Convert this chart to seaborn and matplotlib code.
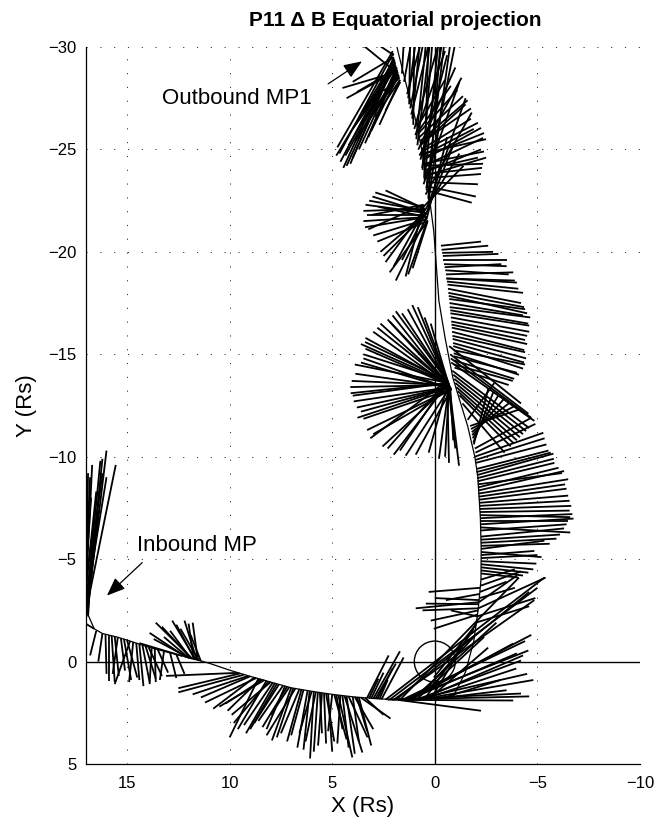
import matplotlib
matplotlib.use("Agg")
import matplotlib.pyplot as plt
import seaborn as sns
import pandas as pd
from matplotlib.collections import LineCollection
from matplotlib.patches import Circle

# ---------------- data (Saturn radii) ----------------
# spacecraft trajectory in the equatorial plane
orbit_x = [17.4, 17.1, 17.0, 16.95, 16.6, 16.2, 15.5, 15.0, 14.0, 13.0, 12.0, 11.0, 10.0, 9.0, 8.0,
           7.0, 6.0, 5.0, 4.0, 3.0, 2.0, 1.0, 0.0, -0.9, -1.5, -1.9, -2.12, -2.25, -2.26, -2.22,
           -2.1, -1.95, -1.6, -1.2, -0.88, -0.5, -0.2, 0.05, 0.44, 0.9, 1.4, 1.8, 1.95]
orbit_y = [-9.0, -5.0, -3.5, -2.4, -1.6, -1.37, -1.2, -1.05, -0.72, -0.45, -0.2, 0.08, 0.42, 0.72, 1.0,
           1.28, 1.45, 1.6, 1.72, 1.8, 1.86, 1.87, 1.82, 1.7, 0.5, -1.0, -2.6, -4.0, -5.5, -7.0,
           -9.0, -10.0, -11.5, -12.8, -13.85, -15.8, -17.6, -21.0, -24.0, -26.3, -28.2, -29.8, -30.5]

# Delta-B vectors: (x0, y0, x1, y1) = start on trajectory, end of the scaled vector
inbound_up = [(16.95, -2.4, 16.0, -10.3), (16.97, -2.6, 15.55, -9.6), (16.98, -2.8, 16.3, -9.8),
              (17.0, -3.0, 16.2, -9.2), (17.0, -3.2, 16.9, -9.2), (17.02, -3.4, 16.5, -8.3),
              (17.03, -3.6, 16.6, -6.9), (17.05, -3.8, 16.75, -8.0), (16.93, -2.3, 16.4, -7.4),
              (16.9, -2.2, 16.65, -6.2), (17.06, -4.0, 17.05, -8.6), (17.08, -4.3, 16.95, -7.6),
              (16.6, -1.6, 17.1, -1.9), (16.96, -2.5, 16.2, -9.9), (16.99, -2.9, 16.0, -9.0),
              (17.01, -3.3, 16.7, -9.6), (17.04, -3.7, 16.8, -9.0)]
inbound_down = [(16.2, -1.37, 16.4, 0.0), (15.9, -1.3, 15.9, 0.93), (15.6, -1.22, 15.4, 0.7),
                (15.3, -1.15, 15.1, 0.44), (15.0, -1.05, 14.5, 0.78), (14.7, -0.95, 14.9, 1.0),
                (14.4, -0.85, 14.2, 1.2), (14.1, -0.76, 13.6, 0.83), (13.8, -0.65, 13.9, 1.1),
                (13.5, -0.58, 13.0, 0.54), (13.2, -0.5, 13.4, 0.9), (12.9, -0.42, 12.6, 0.8),
                (12.6, -0.35, 12.2, 0.6), (16.5, -1.5, 16.8, -0.3), (14.85, -1.0, 15.6, 1.1),
                (16.05, -1.33, 16.0, 0.6), (15.75, -1.26, 15.6, 1.0), (15.45, -1.18, 15.7, 0.6),
                (15.15, -1.1, 14.8, 0.9), (14.55, -0.9, 14.4, 0.9), (14.25, -0.8, 13.9, 1.0),
                (13.95, -0.7, 13.3, 0.7), (13.65, -0.62, 13.6, 1.0)]
inbound_cusp = [(11.8, -0.12, 13.6, -1.9), (11.6, -0.07, 12.2, -2.0), (11.9, -0.15, 12.9, -1.5),
                (12.1, -0.2, 13.9, -1.4), (11.7, -0.1, 12.6, -1.8), (11.5, -0.05, 12.4, -1.6),
                (12.3, -0.27, 14.4, -0.9), (11.4, -0.02, 11.9, -1.3), (12.0, -0.18, 13.2, -1.2),
                (11.75, -0.1, 12.0, -1.85), (11.65, -0.08, 12.8, -2.0), (11.85, -0.13, 13.3, -1.7),
                (11.55, -0.06, 11.8, -1.9), (11.95, -0.16, 13.7, -1.1)]
dawn_fan = [(8.6, 0.83, 10.0, 3.7), (8.2, 0.93, 9.6, 3.3), (7.8, 1.06, 9.2, 3.5), (7.6, 1.12, 8.8, 3.0),
            (7.0, 1.28, 7.94, 3.85), (7.2, 1.23, 8.4, 3.2), (6.6, 1.35, 7.5, 3.5), (6.2, 1.42, 6.7, 4.2),
            (5.9, 1.47, 6.08, 4.73), (5.5, 1.54, 5.69, 4.1), (5.8, 1.49, 6.3, 3.9), (5.0, 1.6, 5.2, 3.4),
            (4.6, 1.66, 4.75, 4.0), (4.7, 1.64, 4.02, 4.68), (4.4, 1.68, 3.53, 4.44), (4.2, 1.7, 3.28, 3.7),
            (3.6, 1.76, 2.16, 2.78), (3.9, 1.73, 3.0, 3.3), (3.4, 1.77, 2.5, 2.6), (4.9, 1.61, 4.3, 3.8),
            (6.4, 1.38, 7.0, 3.6), (8.0, 1.0, 9.9, 2.6), (8.3, 0.9, 10.5, 2.2), (8.7, 0.8, 11.2, 2.0),
            (9.0, 0.72, 11.4, 1.75), (9.3, 0.64, 12.5, 1.5), (9.5, 0.58, 12.5, 1.3), (9.6, 0.55, 13.1, 0.7),
            (8.4, 0.88, 10.2, 2.05), (7.1, 1.26, 8.0, 2.6), (5.2, 1.57, 5.0, 4.4), (6.0, 1.45, 6.6, 3.5),
            (4.8, 1.63, 4.5, 3.3), (8.5, 0.85, 10.1, 2.4), (7.9, 1.03, 9.3, 3.1), (7.4, 1.18, 8.6, 2.9),
            (6.8, 1.32, 8.2, 3.6), (5.6, 1.52, 5.5, 3.5), (5.3, 1.56, 4.9, 3.9), (4.0, 1.72, 3.7, 3.9),
            (3.7, 1.75, 3.1, 4.1), (8.1, 0.97, 9.8, 3.0), (7.7, 1.09, 9.0, 3.3), (7.3, 1.2, 8.2, 3.3),
            (6.9, 1.3, 7.7, 3.7), (6.5, 1.37, 7.2, 3.9), (6.1, 1.44, 6.4, 4.3), (5.7, 1.5, 5.9, 4.4),
            (5.4, 1.55, 5.3, 4.0), (4.5, 1.67, 4.2, 4.2), (4.3, 1.69, 3.9, 4.5), (3.8, 1.74, 3.3, 3.4),
            (9.1, 0.7, 11.8, 1.6), (8.8, 0.78, 10.8, 2.3)]
peri_short = [(3.3, 1.77, 2.25, -0.3), (2.6, 1.84, 1.52, -0.2), (2.9, 1.82, 1.9, 0.1),
              (3.1, 1.8, 2.5, 0.54), (2.8, 1.83, 2.06, 0.34), (3.2, 1.79, 2.75, 0.83),
              (3.0, 1.81, 1.7, -0.5), (2.7, 1.84, 2.3, 0.9)]
peri_long = [(2.4, 1.86, -5.34, -4.1), (2.0, 1.86, -4.85, -3.0), (1.7, 1.87, -4.1, -4.1),
             (1.5, 1.87, -4.56, -0.54), (1.2, 1.87, -3.82, -0.88), (0.9, 1.86, -4.2, -0.05),
             (0.6, 1.85, -3.97, 0.34), (0.3, 1.83, -2.6, -0.68), (2.3, 1.86, -4.2, 1.56),
             (1.8, 1.87, -3.82, 1.9), (1.8, 1.87, -2.25, 2.4), (-0.3, 1.8, -3.2, 0.9),
             (0.0, 1.82, -3.5, 1.4), (1.0, 1.86, -4.5, 0.6), (0.7, 1.85, -4.3, -0.3),
             (1.4, 1.87, -4.7, -1.3), (1.1, 1.86, -3.0, -1.9), (0.2, 1.83, -2.1, -2.0),
             (0.5, 1.84, -1.9, -1.6), (0.9, 1.86, -2.4, -1.2), (2.2, 1.86, -5.0, -3.6),
             (1.9, 1.87, -4.6, -3.4), (1.6, 1.87, -4.4, -1.0), (1.3, 1.87, -4.0, -0.4),
             (0.8, 1.86, -4.8, 0.9), (2.1, 1.86, -4.6, 1.7)]
rise_left = [(-2.15, -2.8, 0.44, -2.83), (-2.12, -2.5, 0.2, -2.0), (-2.1, -2.3, 0.05, -1.6),
             (-2.15, -2.9, 0.93, -2.6), (-2.18, -3.3, -0.54, -3.0), (-2.1, -2.2, -0.78, -2.5),
             (-2.2, -3.6, 0.3, -3.4), (-2.0, -1.8, 0.05, 0.78), (-1.9, -1.2, 0.4, 1.3),
             (-2.13, -2.6, 0.6, -2.5), (-2.17, -3.0, 0.0, -3.1)]
dusk_fan = [(-1.95, -10.0, -5.29, -11.17), (-2.0, -9.7, -5.44, -10.6), (-2.02, -9.4, -5.54, -10.3),
            (-2.05, -9.1, -5.78, -10.15), (-2.08, -8.8, -5.83, -9.7), (-2.1, -8.5, -6.03, -9.46),
            (-2.12, -8.2, -6.5, -8.9), (-2.15, -7.9, -6.42, -8.44), (-2.18, -7.6, -6.57, -7.85),
            (-2.2, -7.3, -6.57, -7.37), (-2.22, -7.0, -6.7, -7.2), (-2.23, -6.7, -6.76, -6.98),
            (-2.24, -6.4, -6.42, -6.7), (-2.25, -6.1, -6.3, -6.5), (-2.25, -5.8, -5.93, -6.0),
            (-2.26, -5.5, -5.34, -5.9), (-2.26, -5.2, -4.85, -5.4), (-2.26, -4.9, -4.95, -4.78),
            (-2.25, -4.6, -4.56, -4.34), (-2.25, -4.3, -4.07, -4.1), (-2.24, -4.0, -3.9, -4.5),
            (-2.22, -3.7, -4.2, -4.4), (-2.2, -3.4, -3.5, -3.9), (-2.18, -3.1, -3.9, -3.6),
            (-2.15, -2.9, -4.0, -4.2), (-2.12, -2.6, -5.4, -4.1), (-2.05, -2.2, -4.9, -3.1),
            (-2.0, -1.9, -4.6, -2.7), (-2.19, -7.45, -6.65, -7.6), (-2.21, -7.15, -6.6, -7.05),
            (-2.23, -6.85, -6.5, -6.85), (-2.14, -8.05, -6.35, -8.65), (-2.09, -8.65, -6.2, -9.2),
            (-2.24, -6.55, -6.6, -6.3), (-2.25, -5.95, -6.1, -6.2), (-2.26, -5.65, -5.6, -5.75),
            (-2.26, -5.35, -5.2, -5.1), (-2.26, -5.05, -5.0, -5.2), (-2.0, -9.85, -5.35, -10.9),
            (-2.03, -9.25, -5.65, -10.2), (-2.06, -8.95, -5.8, -9.9), (-2.11, -8.35, -6.3, -9.3),
            (-2.17, -7.75, -6.5, -8.1), (-2.25, -4.75, -4.8, -4.5), (-2.25, -4.45, -4.3, -4.2)]
cross_hatch = [(-0.75, -15.0, -4.56, -12.1), (-0.8, -14.6, -4.85, -11.75), (-0.85, -14.2, -4.6, -11.4),
               (-0.95, -13.8, -4.3, -11.1), (-1.05, -13.4, -4.0, -10.8), (-1.2, -13.0, -3.7, -10.5),
               (-1.35, -12.6, -3.4, -10.2), (-0.7, -15.4, -4.2, -12.6), (-1.9, -10.6, -2.6, -13.3),
               (-1.85, -10.9, -3.1, -13.0), (-1.8, -11.2, -3.6, -12.6), (-1.72, -11.5, -4.1, -12.3),
               (-1.95, -10.4, -4.7, -11.9), (-1.98, -10.2, -4.9, -11.6), (-1.6, -11.8, -2.9, -13.6),
               (-0.78, -14.8, -4.7, -11.9), (-0.9, -14.0, -4.45, -11.25), (-1.0, -13.6, -4.15, -10.95),
               (-1.12, -13.2, -3.85, -10.65), (-1.88, -10.7, -2.85, -13.15), (-1.82, -11.05, -3.35, -12.8),
               (-1.76, -11.35, -3.85, -12.45)]
fan_14 = [(-0.7, -13.5, 4.12, -13.4), (-0.65, -13.6, 4.0, -12.98), (-0.75, -13.4, 3.87, -14.05),
          (-0.8, -13.3, 3.48, -14.8), (-0.6, -13.7, 3.48, -15.0), (-0.7, -13.5, 3.38, -15.27),
          (-0.65, -13.6, 3.38, -15.8), (-0.75, -13.4, 2.65, -16.5), (-0.8, -13.3, 2.06, -16.9),
          (-0.6, -13.7, 1.9, -17.1), (-0.7, -13.5, 1.32, -17.2), (-0.65, -13.6, 0.83, -17.3),
          (-0.75, -13.4, 3.77, -11.9), (-0.8, -13.3, 3.48, -11.85), (-0.6, -13.7, 3.14, -10.9),
          (-0.7, -13.5, 2.55, -10.5), (-0.65, -13.6, 2.0, -10.1), (-0.75, -13.4, 1.42, -10.05),
          (-0.8, -13.3, 0.93, -10.1), (-0.6, -13.7, -0.69, -9.7), (-0.7, -13.5, -1.18, -9.56),
          (-0.65, -13.6, 3.6, -15.5), (-0.75, -13.4, 3.0, -16.1), (-0.8, -13.3, 2.3, -16.7),
          (-0.6, -13.7, 1.6, -17.0), (-0.7, -13.5, 1.1, -17.4), (-0.65, -13.6, 3.9, -14.5),
          (-0.75, -13.4, 3.8, -12.4), (-0.8, -13.3, 3.3, -11.3), (-0.6, -13.7, 1.7, -10.3),
          (-0.7, -13.5, -0.2, -9.9), (-0.65, -13.6, 0.3, -10.2), (-0.75, -13.4, -0.9, -10.8),
          (-0.7, -13.5, 0.5, -16.8), (-0.65, -13.6, 0.2, -16.5), (-0.7, -13.5, 4.05, -13.7),
          (-0.65, -13.6, 4.1, -13.1), (-0.75, -13.4, 3.95, -12.7), (-0.8, -13.3, 3.6, -14.6),
          (-0.6, -13.7, 3.4, -15.6), (-0.7, -13.5, 2.8, -16.3), (-0.65, -13.6, 2.2, -16.6),
          (-0.75, -13.4, 3.6, -12.2), (-0.8, -13.3, 3.0, -11.1), (-0.6, -13.7, 2.3, -10.4),
          (-0.7, -13.5, -0.5, -10.0), (-0.65, -13.6, -1.0, -10.4)]
fan_17 = [(-0.3, -20.3, -2.25, -20.5), (-0.36, -19.95, -2.84, -20.0), (-0.42, -19.6, -3.5, -19.6),
          (-0.48, -19.25, -3.24, -19.4), (-0.54, -18.9, -3.82, -19.0), (-0.59, -18.55, -4.07, -18.2),
          (-0.64, -18.2, -4.2, -17.5), (-0.68, -17.85, -4.5, -17.0), (-0.72, -17.5, -4.3, -16.9),
          (-0.75, -17.15, -4.55, -16.5), (-0.78, -16.8, -4.6, -16.1), (-0.81, -16.45, -4.4, -15.7),
          (-0.84, -16.1, -4.36, -15.2), (-0.87, -15.75, -4.45, -14.8), (-0.9, -15.4, -4.3, -14.3),
          (-0.92, -15.05, -4.1, -14.0), (-0.94, -14.7, -3.87, -13.8), (-0.96, -14.35, -3.6, -13.5),
          (-0.39, -19.8, -3.1, -19.9), (-0.62, -18.4, -4.3, -18.0), (-0.73, -17.3, -4.65, -16.8),
          (-0.83, -16.3, -4.5, -15.5), (-0.91, -15.2, -4.4, -14.5), (-0.56, -18.7, -3.9, -18.6),
          (-0.33, -20.1, -2.6, -20.3), (-0.45, -19.4, -3.5, -19.3), (-0.51, -19.1, -3.6, -18.9),
          (-0.57, -18.7, -4.0, -18.5), (-0.66, -18.0, -4.35, -17.3), (-0.7, -17.7, -4.4, -17.2),
          (-0.76, -17.0, -4.6, -16.4), (-0.8, -16.6, -4.5, -15.9), (-0.86, -15.9, -4.4, -15.1),
          (-0.89, -15.55, -4.35, -14.6), (-0.93, -14.9, -4.0, -14.1), (-0.95, -14.5, -3.8, -13.7)]
fan_22 = [(0.45, -21.9, 3.38, -22.3), (0.5, -22.1, 3.48, -22.0), (0.4, -21.7, 3.48, -21.5),
          (0.55, -22.3, 3.24, -21.1), (0.35, -21.5, 2.8, -20.5), (0.45, -21.9, 2.65, -20.0),
          (0.5, -22.1, 2.4, -19.5), (0.4, -21.7, 1.9, -18.6), (0.55, -22.3, 1.42, -18.8),
          (0.35, -21.5, 1.08, -19.2), (0.45, -21.9, 3.04, -22.7), (0.5, -22.1, 2.4, -23.0),
          (0.4, -21.7, 2.75, -22.2), (0.55, -22.3, 3.1, -21.8), (0.35, -21.5, 2.2, -19.0),
          (0.45, -21.9, 1.6, -19.6), (0.45, -21.8, -0.9, -25.2), (0.5, -22.0, -1.2, -24.8),
          (0.4, -21.6, -0.6, -25.6), (0.55, -22.2, -1.4, -24.2), (0.42, -21.8, 3.3, -21.8),
          (0.48, -22.0, 3.2, -22.5), (0.38, -21.6, 3.0, -20.8), (0.44, -21.85, 2.5, -19.8),
          (0.5, -22.05, 2.0, -19.3), (0.36, -21.55, 1.3, -18.9), (0.4, -21.7, 3.4, -21.2),
          (0.52, -22.15, 2.9, -22.9)]
fan_25 = [(0.55, -24.5, -2.25, -26.05), (0.5, -24.2, -2.35, -25.56), (0.6, -24.8, -2.5, -25.5),
          (0.45, -23.9, -2.25, -25.0), (0.5, -24.2, -2.35, -24.3), (0.45, -23.6, -2.25, -23.8),
          (0.4, -23.2, -2.0, -22.7), (0.65, -25.0, -1.76, -26.5), (0.7, -25.3, -1.76, -27.0),
          (0.75, -25.6, -1.37, -27.6), (0.8, -25.9, -0.78, -28.1), (0.5, -24.0, -2.1, -24.6),
          (0.6, -24.7, -1.9, -26.0), (0.7, -25.2, -1.5, -27.2), (0.6, -24.6, -2.4, -25.8),
          (0.55, -24.3, -2.4, -24.9), (0.48, -23.8, -2.3, -24.1), (0.42, -23.4, -2.1, -23.3),
          (0.65, -24.9, -2.1, -26.3), (0.72, -25.4, -1.6, -27.4), (0.78, -25.8, -1.1, -27.9),
          (0.85, -26.1, -0.5, -28.4), (0.4, -23.0, -1.8, -22.4), (0.5, -23.7, -2.5, -24.6)]
fan_up = [(0.3, -22.5, -0.8, -30.5), (0.4, -23.0, -0.5, -30.5), (0.5, -23.5, -0.2, -30.5),
          (0.6, -24.0, 0.1, -30.5), (0.7, -24.5, -0.6, -29.6), (0.8, -25.0, -1.0, -29.0),
          (0.9, -25.5, 0.4, -30.5), (1.0, -26.0, -0.2, -30.2), (1.1, -26.5, 0.7, -30.5),
          (1.2, -27.0, 0.5, -30.5), (1.3, -27.5, 0.9, -30.5), (0.35, -22.2, -1.5, -27.5),
          (0.45, -22.8, -1.8, -26.8), (0.55, -23.3, -1.2, -28.3), (0.32, -22.6, -0.3, -30.5),
          (0.42, -23.1, -1.0, -30.2), (0.52, -23.6, 0.3, -30.5), (0.62, -24.1, -0.4, -30.5),
          (0.75, -24.7, -1.3, -28.5), (0.85, -25.2, 0.2, -30.5), (0.95, -25.7, -0.5, -29.8),
          (1.05, -26.2, 1.0, -30.5), (1.15, -26.7, 0.2, -30.5), (1.25, -27.2, 1.2, -30.5),
          (1.35, -27.7, 0.6, -30.5), (1.5, -28.3, 1.1, -30.5), (1.6, -28.7, 1.5, -30.5)]
outbound_mp = [(2.05, -29.8, 4.75, -25.1), (2.0, -29.5, 4.46, -24.1), (1.95, -29.3, 4.12, -24.3),
               (1.85, -29.0, 3.24, -25.6), (1.9, -29.1, 4.36, -24.7), (1.8, -28.8, 3.87, -25.4),
               (1.75, -28.6, 3.63, -25.8), (1.7, -28.4, 2.9, -26.6), (1.98, -29.4, 4.6, -24.4),
               (2.0, -29.5, 4.0, -28.3), (1.92, -29.2, 3.5, -26.8), (1.88, -29.0, 4.0, -26.0),
               (1.8, -28.8, 4.5, -28.0), (1.8, -28.7, 4.0, -30.5), (2.0, -29.6, 3.5, -30.6),
               (1.72, -28.5, 2.5, -27.85), (1.78, -28.7, 2.9, -27.0), (2.02, -29.7, 4.65, -24.8),
               (1.96, -29.35, 4.3, -24.2), (1.93, -29.25, 4.0, -24.6), (1.86, -29.0, 3.7, -25.0),
               (1.83, -28.9, 3.4, -25.3), (1.76, -28.65, 3.1, -25.9), (1.74, -28.55, 3.3, -26.3),
               (1.9, -29.1, 4.2, -25.2), (1.97, -29.4, 4.8, -24.7), (1.82, -28.85, 4.3, -27.5),
               (1.85, -28.95, 3.8, -27.8), (1.7, -28.4, 2.7, -26.2), (1.68, -28.3, 2.4, -26.9)]

vector_groups = [inbound_up, inbound_down, inbound_cusp, dawn_fan, peri_short, peri_long,
                 rise_left, dusk_fan, cross_hatch, fan_14, fan_17, fan_22, fan_25, fan_up, outbound_mp]

x_ticks = [15, 10, 5, 0, -5, -10]
y_ticks = [-30, -25, -20, -15, -10, -5, 0, 5]
title = "P11 \u0394 B Equatorial projection"
x_label = "X (Rs)"
y_label = "Y (Rs)"
notes = [("Outbound MP1", 13.3, -27.5, 5.2, -28.2, 3.55, -29.3),
         ("Inbound MP", 14.5, -5.66, 14.26, -4.83, 15.98, -3.22)]

# ---------------- drawing ----------------
sns.set_style("white")
plt.rcParams['font.family'] = ['Liberation Sans', 'DejaVu Sans']
plt.rcParams['text.color'] = 'k'
plt.rcParams['axes.labelcolor'] = 'k'
plt.rcParams['xtick.color'] = 'k'
plt.rcParams['ytick.color'] = 'k'

fig = plt.figure(figsize=(6.65, 8.26), dpi=100)
ax = fig.add_axes([86 / 665, 62 / 826, 554 / 665, 717 / 826])

ax.set_xlim(17, -10)
ax.set_ylim(5, -30)

ax.grid(True, color='#333333', lw=0.7, linestyle=(0, (1.2, 13)))
ax.set_axisbelow(True)

ax.axhline(0, color='k', lw=1.0, zorder=2)
ax.axvline(0, color='k', lw=1.0, zorder=2)
ax.add_patch(Circle((0, 0), 1.0, fill=False, ec='k', lw=1.0, zorder=3))

orbit = pd.DataFrame({"x": orbit_x, "y": orbit_y})
sns.lineplot(data=orbit, x="x", y="y", sort=False, estimator=None, color='k', lw=0.9, ax=ax,
             zorder=3)

segs = []
for grp in vector_groups:
    for (x0, y0, x1, y1) in grp:
        segs.append([(x0, y0), (x1, y1)])
ax.add_collection(LineCollection(segs, colors='k', linewidths=1.3, zorder=4, capstyle='butt'))

for (txt, tx, ty, ax0, ay0, ax1, ay1) in notes:
    ax.text(tx, ty, txt, fontsize=16, ha='left', va='center', color='k')
    ax.annotate("", xy=(ax1, ay1), xytext=(ax0, ay0),
                arrowprops=dict(arrowstyle="-|>,head_length=0.75,head_width=0.3",
                                color='k', lw=0.9, mutation_scale=15, shrinkA=0, shrinkB=0))

ax.set_xticks(x_ticks)
ax.set_yticks(y_ticks)
ax.tick_params(direction='in', length=5, width=0.9, labelsize=12, colors='k')
ax.tick_params(axis='x', pad=9)
ax.tick_params(axis='y', pad=7)
for s in ['top', 'right']:
    ax.spines[s].set_visible(False)
for s in ['left', 'bottom']:
    ax.spines[s].set_color('k')
    ax.spines[s].set_linewidth(0.9)

ax.set_xlabel(x_label, fontsize=16, labelpad=3)
ax.set_ylabel(y_label, fontsize=16, labelpad=8)
fig.text(395 / 665, 1 - 20 / 826, title, fontsize=15, fontweight='bold', ha='center', va='center',
         color='k')

fig.savefig("out.png", dpi=100)
